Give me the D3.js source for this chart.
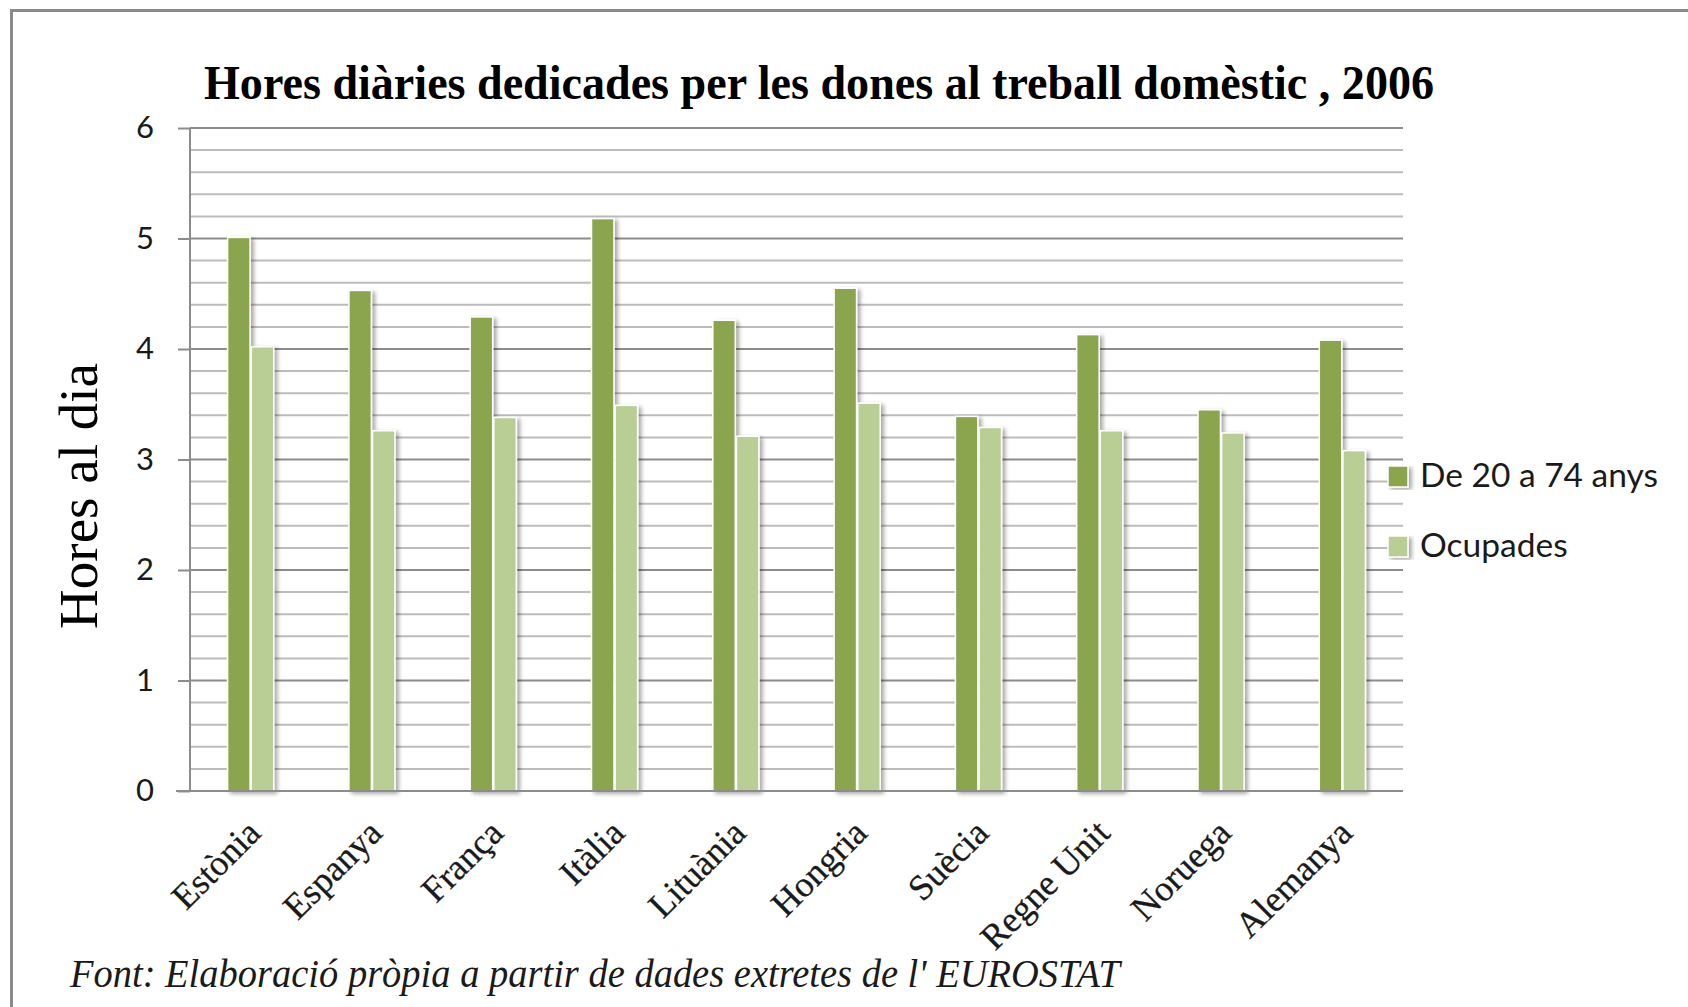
<!DOCTYPE html>
<html lang="ca">
<head>
    <meta charset="UTF-8">
    <title>Hores diàries dedicades per les dones al treball domèstic, 2006</title>
    <script src="https://d3js.org/d3.v7.min.js"></script>
    <style>
        body { margin: 0; background: #fff; }
        svg { display: block; }
    </style>
</head>
<body>
    <div id="chart"></div>

    <script>
        // Data
        var countries = ["Estònia", "Espanya", "França", "Itàlia", "Lituània", "Hongria", "Suècia", "Regne Unit", "Noruega", "Alemanya"];
        var seriesNames = ["De 20 a 74 anys", "Ocupades"];
        var de20a74 = [5.01, 4.53, 4.29, 5.18, 4.26, 4.55, 3.39, 4.13, 3.45, 4.08];
        var ocupades = [4.02, 3.26, 3.38, 3.49, 3.21, 3.51, 3.29, 3.26, 3.24, 3.08];
        var yTicks = [0, 1, 2, 3, 4, 5, 6];
        var seriesColors = ["#8aa54e", "#b8ce95"];

        var width = 1688, height = 1007;

        // rows for the grouped bars
        var rows = countries.map(function(c, i) {
            return { country: c, values: [de20a74[i], ocupades[i]] };
        });

        var svg = d3.select("#chart").append("svg")
            .attr("width", width)
            .attr("height", height);

        // soft shadow under the bars
        var defs = svg.append("defs");
        var f = defs.append("filter").attr("id", "shadow")
            .attr("x", "-30%").attr("y", "-5%").attr("width", "170%").attr("height", "115%");
        f.append("feGaussianBlur").attr("in", "SourceAlpha").attr("stdDeviation", 2.2).attr("result", "blur");
        f.append("feOffset").attr("in", "blur").attr("dx", 2.5).attr("dy", 2).attr("result", "off");
        f.append("feComponentTransfer").attr("in", "off").attr("result", "soft")
            .append("feFuncA").attr("type", "linear").attr("slope", 0.35);
        var merge = f.append("feMerge");
        merge.append("feMergeNode").attr("in", "soft");
        merge.append("feMergeNode").attr("in", "SourceGraphic");

        // chart frame (only top and left visible)
        svg.append("rect")
            .attr("x", 11.5).attr("y", 10.5)
            .attr("width", width + 20).attr("height", height + 20)
            .attr("fill", "none")
            .attr("stroke", "#8a8a8a")
            .attr("stroke-width", 3);

        var plot = { left: 190, right: 1403, top: 128, bottom: 791 };

        var y = d3.scaleLinear().domain([0, 6]).range([plot.bottom, plot.top]);

        var x0 = d3.scaleBand()
            .domain(countries)
            .range([plot.left, plot.right])
            .paddingInner(0.62)
            .paddingOuter(0.31);

        var x1 = d3.scaleBand()
            .domain(seriesNames)
            .range([0, x0.bandwidth()])
            .paddingInner(0.05);

        // minor gridlines every 0.2
        var minor = d3.range(0, 31).map(function(k) { return k / 5; })
            .filter(function(v) { return Math.abs(v - Math.round(v)) > 1e-6; });

        svg.append("g")
            .selectAll("line")
            .data(minor)
            .join("line")
            .attr("x1", plot.left).attr("x2", plot.right)
            .attr("y1", function(d) { return y(d); })
            .attr("y2", function(d) { return y(d); })
            .attr("stroke", "#bcbcbc")
            .attr("stroke-width", 2);

        // major gridlines
        svg.append("g")
            .selectAll("line")
            .data(yTicks.slice(1))
            .join("line")
            .attr("x1", plot.left).attr("x2", plot.right)
            .attr("y1", function(d) { return y(d); })
            .attr("y2", function(d) { return y(d); })
            .attr("stroke", "#8c8c8c")
            .attr("stroke-width", 2);

        // y axis
        var yAxis = svg.append("g")
            .attr("transform", "translate(" + plot.left + ",0)")
            .call(d3.axisLeft(y).tickValues(yTicks).tickSize(12).tickPadding(24).tickFormat(d3.format("d")));
        yAxis.select(".domain").remove();
        yAxis.selectAll(".tick line").attr("stroke", "#8c8c8c").attr("stroke-width", 2);
        yAxis.selectAll(".tick text")
            .attr("font-family", "Lato, 'Open Sans', sans-serif")
            .attr("font-size", 31)
            .attr("fill", "#1a1a1a");
        svg.append("line")
            .attr("x1", plot.left).attr("x2", plot.left)
            .attr("y1", plot.top).attr("y2", plot.bottom)
            .attr("stroke", "#8c8c8c").attr("stroke-width", 2);

        // bars
        var groups = svg.append("g")
            .selectAll("g")
            .data(rows)
            .join("g")
            .attr("transform", function(d) { return "translate(" + x0(d.country) + ",0)"; });

        groups.selectAll("rect")
            .data(function(d) {
                return d.values.map(function(v, i) { return { key: seriesNames[i], value: v, i: i }; });
            })
            .join("rect")
            .attr("x", function(d) { return x1(d.key); })
            .attr("y", function(d) { return y(d.value); })
            .attr("width", x1.bandwidth())
            .attr("height", function(d) { return y(0) - y(d.value); })
            .attr("fill", function(d) { return seriesColors[d.i]; })
            .attr("stroke", "#ffffff")
            .attr("stroke-width", 1.5)
            .attr("filter", "url(#shadow)");

        // x baseline
        svg.append("line")
            .attr("x1", plot.left - 14).attr("x2", plot.right)
            .attr("y1", plot.bottom).attr("y2", plot.bottom)
            .attr("stroke", "#8c8c8c").attr("stroke-width", 2);

        // x labels rotated 45 degrees
        svg.append("g")
            .selectAll("text")
            .data(countries)
            .join("text")
            .attr("transform", function(d) {
                var cx = x0(d) + x0.bandwidth() / 2 + 12;
                return "translate(" + cx + "," + (plot.bottom + 44) + ") rotate(-45)";
            })
            .attr("text-anchor", "end")
            .attr("font-family", "'Liberation Serif', 'Times New Roman', serif")
            .attr("font-size", 36)
            .attr("fill", "#1a1a1a")
            .attr("stroke", "#1a1a1a")
            .attr("stroke-width", 0.3)
            .text(function(d) { return d; });

        // title
        svg.append("text")
            .attr("x", 204)
            .attr("y", 99)
            .attr("font-family", "'Liberation Serif', 'Times New Roman', serif")
            .attr("font-weight", "bold")
            .attr("font-size", 48)
            .attr("textLength", 1230)
            .attr("lengthAdjust", "spacingAndGlyphs")
            .attr("fill", "#000")
            .text("Hores diàries dedicades per les dones al treball domèstic , 2006");

        // y axis title
        svg.append("text")
            .attr("transform", "translate(97,496) rotate(-90)")
            .attr("text-anchor", "middle")
            .attr("font-family", "'Liberation Serif', 'Times New Roman', serif")
            .attr("font-size", 55)
            .attr("fill", "#000")
            .text("Hores al dia");

        // legend
        var legend = svg.append("g")
            .selectAll("g")
            .data(seriesNames)
            .join("g")
            .attr("transform", function(d, i) { return "translate(1388," + (466 + i * 70) + ")"; });

        legend.append("rect")
            .attr("width", 20).attr("height", 21)
            .attr("fill", function(d, i) { return seriesColors[i]; })
            .attr("stroke", "#ffffff")
            .attr("stroke-width", 1.5)
            .attr("filter", "url(#shadow)");

        legend.append("text")
            .attr("x", 32)
            .attr("y", 21)
            .attr("font-family", "Lato, 'Open Sans', sans-serif")
            .attr("font-size", 33.5)
            .attr("fill", "#1a1a1a")
            .text(function(d) { return d; });

        // source note
        svg.append("text")
            .attr("x", 70)
            .attr("y", 987)
            .attr("font-family", "'Liberation Serif', 'Times New Roman', serif")
            .attr("font-style", "italic")
            .attr("font-size", 40)
            .attr("textLength", 1050)
            .attr("lengthAdjust", "spacingAndGlyphs")
            .attr("fill", "#1a1a1a")
            .text("Font: Elaboració pròpia a partir de dades extretes de l' EUROSTAT");
    </script>
</body>
</html>
